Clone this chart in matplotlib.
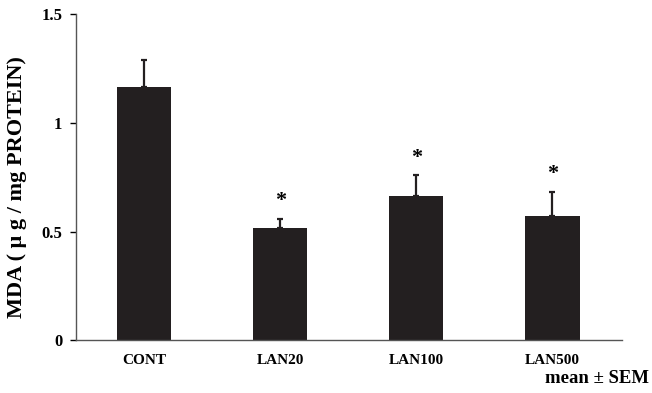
import matplotlib
matplotlib.use("Agg")
from matplotlib import pyplot as plt
import numpy as np

groups = ['CONT', 'LAN20', 'LAN100', 'LAN500']
mda = [1.163, 0.518, 0.664, 0.570]
sem = [0.124, 0.040, 0.095, 0.114]
signif = [False, True, True, True]

plt.rcParams['font.family'] = ['Liberation Serif', 'DejaVu Serif']
plt.rcParams['font.weight'] = 'bold'

fig = plt.figure(figsize=(6.52, 3.93), dpi=100)
ax = fig.add_axes([0.1166, 0.1336, 0.837, 0.8308])

x = np.arange(len(groups))
ax.bar(x, mda, width=0.4, color='#231f20', edgecolor='none', zorder=2)
ax.errorbar(x, mda, yerr=[np.zeros(len(sem)), sem], fmt='none',
            ecolor='#231f20', elinewidth=1.6, capsize=2.5, capthick=1.6, zorder=3)

for i in range(len(groups)):
    if signif[i]:
        ax.text(x[i], mda[i] + sem[i] + 0.035, '*', ha='center', va='bottom',
                fontsize=16, fontweight='bold')

ax.set_xlim(-0.5, 3.51)
ax.set_ylim(0, 1.5)
ax.set_yticks([0, 0.5, 1, 1.5])
ax.set_yticklabels(['0', '0.5', '1', '1.5'], fontsize=12, fontweight='bold')
ax.set_xticks(x)
ax.set_xticklabels(groups, fontsize=11, fontweight='bold')
ax.tick_params(axis='x', length=0, pad=10)
ax.tick_params(axis='y', direction='out', length=4, width=1, pad=6)

ax.spines['top'].set_visible(False)
ax.spines['right'].set_visible(False)
ax.spines['left'].set_linewidth(1)
ax.spines['bottom'].set_linewidth(1)
ax.spines['left'].set_color('#555555')
ax.spines['bottom'].set_color('#555555')

ax.set_ylabel('MDA ( μ g / mg PROTEIN)', fontsize=16, fontweight='bold')
ax.yaxis.set_label_coords(-0.09, 0.47)
fig.text(0.995, 0.037, 'mean ± SEM', ha='right', va='center', fontsize=13.5, fontweight='bold')

fig.savefig('out.png', dpi=100)
